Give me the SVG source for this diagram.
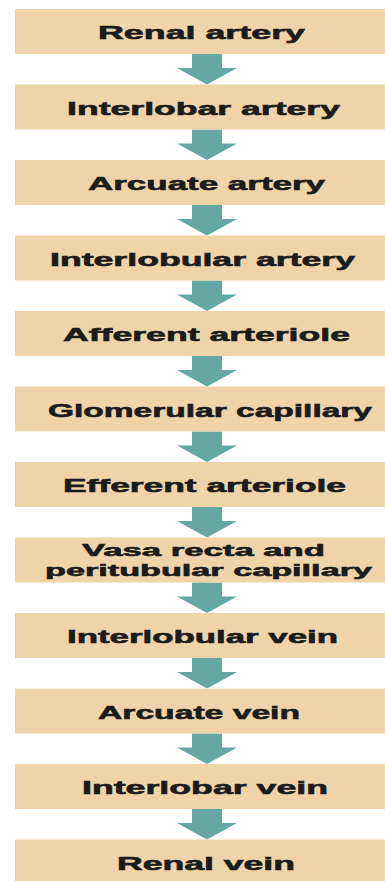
<svg xmlns="http://www.w3.org/2000/svg" width="385" height="881" viewBox="0 0 385 881">
<style>
.box{fill:#EFD4AA}
.lbl{font-family:"Liberation Sans",Arial,sans-serif;font-weight:bold;font-size:19px;fill:#1b1b1b;stroke:#1b1b1b;stroke-width:0.6px}
.sm{font-size:17px}
.arr{fill:#64A7A3}
</style>
<rect width="385" height="881" fill="#ffffff"/>
<defs>
<polygon id="arrow" class="arr" points="192,0 222,0 222,14 237,14 207,30.5 177,14 192,14"/>
</defs>
<g id="connectors">
<use href="#arrow" x="0" y="54"/>
<use href="#arrow" x="0" y="129.5"/>
<use href="#arrow" x="0" y="205"/>
<use href="#arrow" x="0" y="280.5"/>
<use href="#arrow" x="0" y="356"/>
<use href="#arrow" x="0" y="431.5"/>
<use href="#arrow" x="0" y="507"/>
<use href="#arrow" x="0" y="582.5"/>
<use href="#arrow" x="0" y="658"/>
<use href="#arrow" x="0" y="733.5"/>
<use href="#arrow" x="0" y="809"/>
</g>
<g id="n1"><rect class="box" x="15" y="9" width="375" height="45"/><text class="lbl" x="98" y="39" textLength="207" lengthAdjust="spacingAndGlyphs">Renal artery</text></g>
<g id="n2"><rect class="box" x="15" y="84.5" width="375" height="45"/><text class="lbl" x="67" y="114.5" textLength="273" lengthAdjust="spacingAndGlyphs">Interlobar artery</text></g>
<g id="n3"><rect class="box" x="15" y="160" width="375" height="45"/><text class="lbl" x="88" y="190" textLength="237" lengthAdjust="spacingAndGlyphs">Arcuate artery</text></g>
<g id="n4"><rect class="box" x="15" y="235.5" width="375" height="45"/><text class="lbl" x="50" y="265.5" textLength="305" lengthAdjust="spacingAndGlyphs">Interlobular artery</text></g>
<g id="n5"><rect class="box" x="15" y="311" width="375" height="45"/><text class="lbl" x="63" y="341" textLength="287" lengthAdjust="spacingAndGlyphs">Afferent arteriole</text></g>
<g id="n6"><rect class="box" x="15" y="386.5" width="375" height="45"/><text class="lbl" x="48" y="416.5" textLength="324" lengthAdjust="spacingAndGlyphs">Glomerular capillary</text></g>
<g id="n7"><rect class="box" x="15" y="462" width="375" height="45"/><text class="lbl" x="63" y="492" textLength="283" lengthAdjust="spacingAndGlyphs">Efferent arteriole</text></g>
<g id="n8"><rect class="box" x="15" y="537.5" width="375" height="45"/><text class="lbl sm" x="82" y="556" textLength="243" lengthAdjust="spacingAndGlyphs">Vasa recta and</text><text class="lbl sm" x="45" y="575.5" textLength="327" lengthAdjust="spacingAndGlyphs">peritubular capillary</text></g>
<g id="n9"><rect class="box" x="15" y="613" width="375" height="45"/><text class="lbl" x="67" y="643" textLength="271" lengthAdjust="spacingAndGlyphs">Interlobular vein</text></g>
<g id="n10"><rect class="box" x="15" y="688.5" width="375" height="45"/><text class="lbl" x="98" y="718.5" textLength="202" lengthAdjust="spacingAndGlyphs">Arcuate vein</text></g>
<g id="n11"><rect class="box" x="15" y="764" width="375" height="45"/><text class="lbl" x="82" y="794" textLength="246" lengthAdjust="spacingAndGlyphs">Interlobar vein</text></g>
<g id="n12"><rect class="box" x="15" y="839.5" width="375" height="45"/><text class="lbl" x="117" y="869.5" textLength="178" lengthAdjust="spacingAndGlyphs">Renal vein</text></g>
</svg>
